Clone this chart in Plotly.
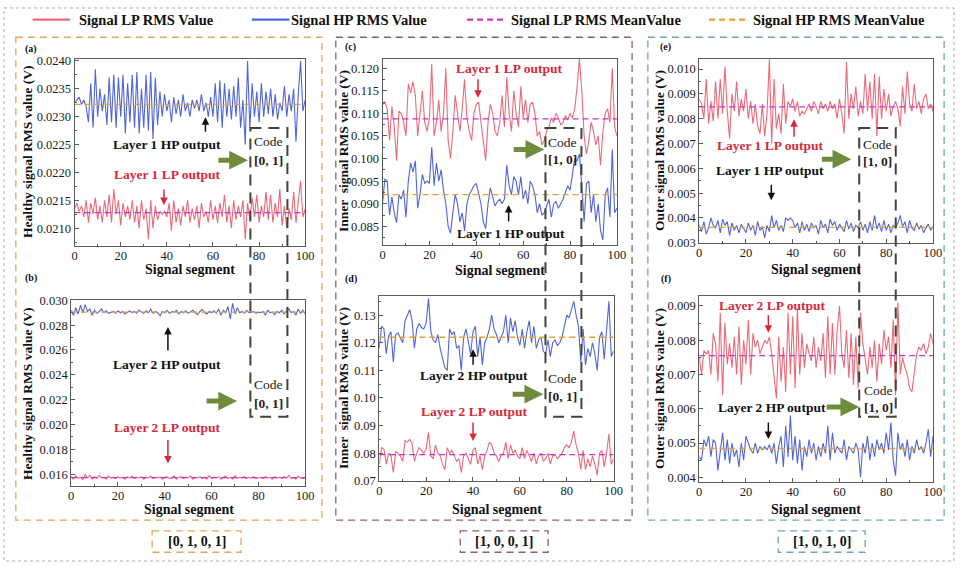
import plotly.graph_objects as go

W, H = 964, 569
FONT = "Liberation Serif, Times New Roman, serif"

# ---------------- data ----------------
x_seg = list(range(101))
x_ticks = [0, 20, 40, 60, 80, 100]

a_lp = [0.02135, 0.02145, 0.02130, 0.02140, 0.02120, 0.02150, 0.02110, 0.02145, 0.02125, 0.02155,
        0.02115, 0.02140, 0.02110, 0.02150, 0.02120, 0.02160, 0.02110, 0.02170, 0.02125, 0.02150,
        0.02105, 0.02145, 0.02120, 0.02140, 0.02115, 0.02150, 0.02110, 0.02140, 0.02100, 0.02150,
        0.02115, 0.02135, 0.02080, 0.02150, 0.02100, 0.02140, 0.02115, 0.02130, 0.02125, 0.02130,
        0.02120, 0.02145, 0.02095, 0.02150, 0.02110, 0.02135, 0.02105, 0.02140, 0.02120, 0.02150,
        0.02110, 0.02135, 0.02115, 0.02140, 0.02100, 0.02145, 0.02120, 0.02130, 0.02110, 0.02150,
        0.02115, 0.02140, 0.02110, 0.02145, 0.02120, 0.02160, 0.02110, 0.02140, 0.02100, 0.02150,
        0.02115, 0.02140, 0.02120, 0.02150, 0.02080, 0.02145, 0.02115, 0.02155, 0.02120, 0.02160,
        0.02110, 0.02140, 0.02120, 0.02165, 0.02115, 0.02160, 0.02110, 0.02145, 0.02120, 0.02170,
        0.02105, 0.02140, 0.02100, 0.02135, 0.02115, 0.02165, 0.02110, 0.02150, 0.02185, 0.02120,
        0.02135]
a_hp = [0.02325, 0.02330, 0.02335, 0.02322, 0.02330, 0.02318, 0.02290, 0.02360, 0.02280, 0.02385,
        0.02300, 0.02350, 0.02310, 0.02340, 0.02285, 0.02370, 0.02290, 0.02375, 0.02280, 0.02370,
        0.02300, 0.02375, 0.02270, 0.02360, 0.02290, 0.02375, 0.02280, 0.02380, 0.02270, 0.02350,
        0.02280, 0.02375, 0.02275, 0.02380, 0.02260, 0.02370, 0.02285, 0.02345, 0.02300, 0.02340,
        0.02310, 0.02330, 0.02290, 0.02335, 0.02305, 0.02330, 0.02300, 0.02340, 0.02310, 0.02325,
        0.02300, 0.02330, 0.02315, 0.02330, 0.02310, 0.02340, 0.02310, 0.02325, 0.02300, 0.02335,
        0.02300, 0.02360, 0.02290, 0.02365, 0.02280, 0.02360, 0.02300, 0.02350, 0.02295, 0.02355,
        0.02300, 0.02370, 0.02280, 0.02330, 0.02250, 0.02400, 0.02280, 0.02360, 0.02300, 0.02345,
        0.02290, 0.02360, 0.02300, 0.02345, 0.02305, 0.02350, 0.02300, 0.02340, 0.02295, 0.02325,
        0.02310, 0.02355, 0.02300, 0.02340, 0.02310, 0.02350, 0.02255, 0.02340, 0.02400, 0.02310,
        0.02330]
a_lp_mean = 0.02128
a_hp_mean = 0.02322

b_lp = [0.01580, 0.01560, 0.01590, 0.01565, 0.01575, 0.01555, 0.01600, 0.01570, 0.01590, 0.01560,
        0.01580, 0.01565, 0.01590, 0.01570, 0.01575, 0.01560, 0.01585, 0.01570, 0.01575, 0.01565,
        0.01580, 0.01570, 0.01575, 0.01560, 0.01580, 0.01570, 0.01585, 0.01565, 0.01575, 0.01570,
        0.01580, 0.01560, 0.01575, 0.01570, 0.01585, 0.01565, 0.01575, 0.01570, 0.01580, 0.01560,
        0.01575, 0.01580, 0.01565, 0.01570, 0.01585, 0.01560, 0.01575, 0.01580, 0.01565, 0.01575,
        0.01570, 0.01585, 0.01560, 0.01575, 0.01570, 0.01580, 0.01565, 0.01575, 0.01560, 0.01590,
        0.01565, 0.01575, 0.01570, 0.01580, 0.01560, 0.01575, 0.01585, 0.01565, 0.01575, 0.01560,
        0.01590, 0.01565, 0.01575, 0.01570, 0.01580, 0.01565, 0.01575, 0.01570, 0.01580, 0.01565,
        0.01570, 0.01575, 0.01565, 0.01580, 0.01570, 0.01575, 0.01560, 0.01580, 0.01570, 0.01575,
        0.01565, 0.01580, 0.01570, 0.01590, 0.01565, 0.01575, 0.01560, 0.01585, 0.01570, 0.01565,
        0.01575]
b_hp = [0.02920, 0.02880, 0.02940, 0.02890, 0.02960, 0.02900, 0.02965, 0.02910, 0.02930, 0.02880,
        0.02920, 0.02895, 0.02910, 0.02930, 0.02900, 0.02915, 0.02895, 0.02905, 0.02910, 0.02895,
        0.02915, 0.02900, 0.02910, 0.02890, 0.02905, 0.02915, 0.02900, 0.02910, 0.02895, 0.02920,
        0.02905, 0.02895, 0.02915, 0.02900, 0.02930, 0.02895, 0.02910, 0.02900, 0.02875, 0.02910,
        0.02900, 0.02920, 0.02895, 0.02910, 0.02905, 0.02920, 0.02890, 0.02910, 0.02900, 0.02915,
        0.02895, 0.02905, 0.02920, 0.02900, 0.02885, 0.02910, 0.02925, 0.02900, 0.02890, 0.02910,
        0.02900, 0.02915, 0.02895, 0.02930, 0.02880, 0.02920, 0.02900, 0.02950, 0.02850, 0.02975,
        0.02890, 0.02940, 0.02900, 0.02910, 0.02895, 0.02920, 0.02900, 0.02905, 0.02910, 0.02895,
        0.02905, 0.02900, 0.02910, 0.02880, 0.02920, 0.02900, 0.02905, 0.02885, 0.02910, 0.02900,
        0.02920, 0.02890, 0.02910, 0.02930, 0.02900, 0.02910, 0.02880, 0.02930, 0.02895, 0.02920,
        0.02890]
b_lp_mean = 0.01572
b_hp_mean = 0.02905

c_lp = [0.1120, 0.1125, 0.1110, 0.1040, 0.1115, 0.1070, 0.0995, 0.1105, 0.1100, 0.1080,
        0.1050, 0.1165, 0.1145, 0.1170, 0.1140, 0.1050, 0.1100, 0.1150, 0.1080, 0.1060,
        0.1090, 0.1210, 0.1050, 0.1080, 0.1130, 0.1060, 0.1100, 0.1200, 0.1040, 0.1000,
        0.1060, 0.1140, 0.1100, 0.1060, 0.1110, 0.1175, 0.1090, 0.1060, 0.1040, 0.1100,
        0.1120, 0.1125, 0.1080, 0.1040, 0.0995, 0.1080, 0.1120, 0.1100, 0.1060, 0.1050,
        0.1080, 0.1140, 0.1070, 0.1180, 0.1100, 0.1060, 0.1150, 0.1100, 0.1070, 0.1160,
        0.1090, 0.1130, 0.1080, 0.1120, 0.1125, 0.1100, 0.1050, 0.1060, 0.1030, 0.1040,
        0.1060, 0.1070, 0.1090, 0.1080, 0.1100, 0.1090, 0.1075, 0.1080, 0.1095, 0.1085,
        0.1100, 0.1090, 0.1110, 0.1160, 0.1220, 0.1150, 0.1050, 0.1010, 0.1040, 0.1080,
        0.1060, 0.1030, 0.1050, 0.0985, 0.1060, 0.1100, 0.1110, 0.1080, 0.1200, 0.1070,
        0.1050]
c_hp = [0.0900, 0.0955, 0.0950, 0.0875, 0.0915, 0.0880, 0.0858, 0.0920, 0.0910, 0.0930,
        0.0870, 0.0950, 0.0990, 0.0970, 0.0995, 0.0890, 0.0920, 0.0965, 0.0945, 0.0950,
        0.0945, 0.1025, 0.0940, 0.0990, 0.0950, 0.0975, 0.0930, 0.0900, 0.0850, 0.0835,
        0.0880, 0.0920, 0.0900, 0.0860, 0.0880, 0.0840, 0.0900, 0.0920, 0.0930, 0.0940,
        0.0945, 0.0920, 0.0900, 0.0860, 0.0845, 0.0900, 0.0935, 0.0915, 0.0895, 0.0905,
        0.0910, 0.0900, 0.0910, 0.0985, 0.0940, 0.0920, 0.0960, 0.0950, 0.0920, 0.0960,
        0.0910, 0.0930, 0.0900, 0.0950, 0.0940, 0.0920, 0.0880, 0.0900, 0.0875, 0.0880,
        0.0895, 0.0910, 0.0870, 0.0900, 0.0905, 0.0890, 0.0900, 0.0910, 0.0925, 0.0940,
        0.0930, 0.0970, 0.1000, 0.0995, 0.1010, 0.0940, 0.0860, 0.0945, 0.0950, 0.0880,
        0.0920, 0.0860, 0.0900, 0.0840, 0.0820, 0.0920, 0.0935, 0.0870, 0.1020, 0.0880,
        0.0890]
c_lp_mean = 0.1088
c_hp_mean = 0.0920

d_lp = [0.0760, 0.0820, 0.0815, 0.0760, 0.0800, 0.0790, 0.0730, 0.0805, 0.0800, 0.0790,
        0.0770, 0.0845, 0.0840, 0.0850, 0.0835, 0.0770, 0.0800, 0.0820, 0.0810, 0.0800,
        0.0815, 0.0875, 0.0790, 0.0780, 0.0830, 0.0800, 0.0790, 0.0760, 0.0740, 0.0820,
        0.0800, 0.0810, 0.0790, 0.0770, 0.0780, 0.0730, 0.0790, 0.0800, 0.0780, 0.0760,
        0.0810, 0.0820, 0.0760, 0.0790, 0.0740, 0.0790, 0.0810, 0.0840, 0.0830, 0.0800,
        0.0790, 0.0770, 0.0790, 0.0800, 0.0840, 0.0780, 0.0830, 0.0800, 0.0810, 0.0790,
        0.0780, 0.0820, 0.0780, 0.0810, 0.0790, 0.0770, 0.0800, 0.0760, 0.0790, 0.0800,
        0.0770, 0.0780, 0.0800, 0.0760, 0.0790, 0.0795, 0.0780, 0.0790, 0.0800, 0.0820,
        0.0830, 0.0820, 0.0840, 0.0880, 0.0830, 0.0800, 0.0740, 0.0810, 0.0740, 0.0780,
        0.0750, 0.0790, 0.0760, 0.0720, 0.0800, 0.0810, 0.0750, 0.0800, 0.0870, 0.0760,
        0.0780]
d_hp = [0.1180, 0.1260, 0.1250, 0.1160, 0.1225, 0.1240, 0.1130, 0.1230, 0.1235, 0.1220,
        0.1200, 0.1280, 0.1300, 0.1320, 0.1280, 0.1180, 0.1250, 0.1270, 0.1255, 0.1250,
        0.1270, 0.1360, 0.1240, 0.1210, 0.1200, 0.1230, 0.1180, 0.1150, 0.1110, 0.1100,
        0.1250, 0.1230, 0.1240, 0.1180, 0.1190, 0.1100, 0.1220, 0.1250, 0.1200, 0.1160,
        0.1240, 0.1260, 0.1150, 0.1220, 0.1120, 0.1200, 0.1220, 0.1250, 0.1300, 0.1250,
        0.1230, 0.1200, 0.1220, 0.1240, 0.1300, 0.1200, 0.1290, 0.1240, 0.1280, 0.1220,
        0.1190, 0.1250, 0.1180, 0.1240, 0.1280, 0.1200, 0.1260, 0.1180, 0.1210, 0.1220,
        0.1170, 0.1160, 0.1210, 0.1150, 0.1200, 0.1210, 0.1190, 0.1200, 0.1220, 0.1260,
        0.1300, 0.1290, 0.1320, 0.1350, 0.1300, 0.1260, 0.1130, 0.1250, 0.1120, 0.1180,
        0.1150, 0.1200, 0.1160, 0.1100, 0.1220, 0.1240, 0.1140, 0.1250, 0.1350, 0.1150,
        0.1170]
d_lp_mean = 0.0795
d_hp_mean = 0.1220

e_lp = [0.00880, 0.00860, 0.00800, 0.00960, 0.00780, 0.00870, 0.00790, 0.00950, 0.00800, 0.00960,
        0.00820, 0.01010, 0.00830, 0.00720, 0.00900, 0.00830, 0.00950, 0.00810, 0.00880, 0.00830,
        0.00920, 0.00800, 0.00870, 0.00780, 0.00860, 0.00770, 0.00740, 0.00860, 0.00730, 0.00820,
        0.01040, 0.00700, 0.00960, 0.00760, 0.00820, 0.00740, 0.00940, 0.00780, 0.00870, 0.00850,
        0.00880, 0.00830, 0.00870, 0.00810, 0.00830, 0.00820, 0.00840, 0.00860, 0.00830, 0.00870,
        0.00850, 0.00820, 0.00870, 0.00840, 0.00860, 0.00830, 0.00870, 0.00840, 0.00860, 0.00800,
        0.00880, 0.00820, 0.00740, 0.01030, 0.00800, 0.00900, 0.00840, 0.00930, 0.00810, 0.00870,
        0.00820, 0.00980, 0.00830, 0.00950, 0.00800, 0.00980, 0.00730, 0.00970, 0.00800, 0.00920,
        0.00830, 0.00900, 0.00810, 0.00850, 0.00870, 0.00840, 0.00770, 0.00930, 0.00820, 0.00990,
        0.00860, 0.00830, 0.00940, 0.00840, 0.00870, 0.00820, 0.00880, 0.00900, 0.00840, 0.00860,
        0.00830]
e_hp = [0.00370, 0.00345, 0.00385, 0.00335, 0.00360, 0.00400, 0.00370, 0.00360, 0.00390, 0.00340,
        0.00395, 0.00370, 0.00385, 0.00330, 0.00380, 0.00350, 0.00370, 0.00340, 0.00375, 0.00355,
        0.00340, 0.00380, 0.00350, 0.00370, 0.00330, 0.00385, 0.00350, 0.00365, 0.00320, 0.00370,
        0.00345, 0.00410, 0.00360, 0.00390, 0.00350, 0.00370, 0.00345, 0.00400, 0.00390, 0.00400,
        0.00390, 0.00360, 0.00380, 0.00340, 0.00385, 0.00350, 0.00375, 0.00345, 0.00380, 0.00360,
        0.00370, 0.00335, 0.00390, 0.00360, 0.00375, 0.00340, 0.00395, 0.00370, 0.00385, 0.00350,
        0.00375, 0.00360, 0.00345, 0.00390, 0.00355, 0.00380, 0.00345, 0.00370, 0.00360, 0.00385,
        0.00350, 0.00375, 0.00340, 0.00385, 0.00350, 0.00410, 0.00355, 0.00380, 0.00345, 0.00390,
        0.00350, 0.00375, 0.00340, 0.00370, 0.00360, 0.00380, 0.00410, 0.00365, 0.00385, 0.00340,
        0.00390, 0.00360, 0.00350, 0.00380, 0.00355, 0.00370, 0.00340, 0.00360, 0.00375, 0.00350,
        0.00365]
e_lp_mean = 0.00848
e_hp_mean = 0.00362

f_lp = [0.00750, 0.00700, 0.00770, 0.00760, 0.00770, 0.00700, 0.00820, 0.00790, 0.00680, 0.00880,
        0.00640, 0.00850, 0.00730, 0.00790, 0.00720, 0.00810, 0.00700, 0.00840, 0.00670, 0.00800,
        0.00730, 0.00860, 0.00700, 0.00820, 0.00780, 0.00800, 0.00760, 0.00780, 0.00800, 0.00790,
        0.00810, 0.00760, 0.00700, 0.00630, 0.00810, 0.00680, 0.00780, 0.00650, 0.00880, 0.00700,
        0.00870, 0.00660, 0.00890, 0.00700, 0.00820, 0.00720, 0.00790, 0.00760, 0.00740, 0.00810,
        0.00720, 0.00780, 0.00740, 0.00820, 0.00690, 0.00870, 0.00700, 0.00850, 0.00700, 0.00830,
        0.00900, 0.00760, 0.00720, 0.00830, 0.00690, 0.00820, 0.00670, 0.00810, 0.00660, 0.00880,
        0.00790, 0.00750, 0.00700, 0.00780, 0.00720, 0.00800, 0.00680, 0.00790, 0.00730, 0.00830,
        0.00770, 0.00810, 0.00720, 0.00860, 0.00640, 0.00910, 0.00700, 0.00750, 0.00720, 0.00700,
        0.00660, 0.00650, 0.00700, 0.00760, 0.00780, 0.00770, 0.00790, 0.00760, 0.00780, 0.00820,
        0.00790]
f_hp = [0.00460, 0.00450, 0.00510, 0.00490, 0.00520, 0.00460, 0.00510, 0.00500, 0.00420, 0.00480,
        0.00530, 0.00450, 0.00510, 0.00440, 0.00500, 0.00460, 0.00480, 0.00430, 0.00500, 0.00450,
        0.00520, 0.00500, 0.00480, 0.00470, 0.00500, 0.00470, 0.00490, 0.00480, 0.00490, 0.00480,
        0.00495, 0.00470, 0.00500, 0.00440, 0.00490, 0.00520, 0.00430, 0.00550, 0.00460, 0.00580,
        0.00450, 0.00520, 0.00440, 0.00510, 0.00420, 0.00490, 0.00460, 0.00510, 0.00470, 0.00500,
        0.00450, 0.00490, 0.00460, 0.00500, 0.00470, 0.00550, 0.00450, 0.00530, 0.00470, 0.00490,
        0.00480, 0.00470, 0.00510, 0.00450, 0.00490, 0.00480, 0.00470, 0.00500, 0.00480, 0.00400,
        0.00500, 0.00470, 0.00520, 0.00450, 0.00500, 0.00460, 0.00510, 0.00480, 0.00500, 0.00470,
        0.00530, 0.00480, 0.00560, 0.00450, 0.00405, 0.00530, 0.00480, 0.00500, 0.00460, 0.00510,
        0.00450, 0.00490, 0.00470, 0.00510, 0.00480, 0.00490, 0.00470, 0.00500, 0.00540, 0.00460,
        0.00520]
f_lp_mean = 0.00755
f_hp_mean = 0.00484

a_yticks = [0.0210, 0.0215, 0.0220, 0.0225, 0.0230, 0.0235, 0.0240]
b_yticks = [0.016, 0.018, 0.020, 0.022, 0.024, 0.026, 0.028, 0.030]
c_yticks = [0.085, 0.090, 0.095, 0.100, 0.105, 0.110, 0.115, 0.120]
d_yticks = [0.07, 0.08, 0.09, 0.10, 0.11, 0.12, 0.13]
e_yticks = [0.003, 0.004, 0.005, 0.006, 0.007, 0.008, 0.009, 0.010]
f_yticks = [0.004, 0.005, 0.006, 0.007, 0.008, 0.009]

legend_names = ["Signal LP RMS Value", "Signal HP RMS Value",
                "Signal LP RMS MeanValue", "Signal HP RMS MeanValue"]
y_titles = ["Healthy signal RMS value (V)", "Inner  signal RMS value (V)",
            "Outer signal RMS value (V)"]
group_codes = ["[0, 1, 0, 1]", "[1, 0, 0, 1]", "[1, 0, 1, 0]"]

# ---------------- style ----------------
LP_C = "#ec6a78"
HP_C = "#5064dc"
LPM_C = "#cc33cc"
HPM_C = "#e8a035"
RED_T = "#d8283a"
GREEN = "#6e8c3c"
CODE_C = "#3e4636"


def fx(p):
    return p / W


def fy(p):
    return 1 - p / H


panels = [
    # name, lp, hp, lpm, hpm, yticks, fmt, yrange, (l, r, t, b) pixels
    ("a", a_lp, a_hp, a_lp_mean, a_hp_mean, a_yticks, ".4f", [0.02068, 0.02404], (72.5, 306, 53, 245)),
    ("b", b_lp, b_hp, b_lp_mean, b_hp_mean, b_yticks, ".3f", [0.01508, 0.0300], (69, 306, 300.7, 490.7)),
    ("c", c_lp, c_hp, c_lp_mean, c_hp_mean, c_yticks, ".3f", [0.0808, 0.1221], (384.3, 621.7, 53, 244.3)),
    ("d", d_lp, d_hp, d_lp_mean, d_hp_mean, d_yticks, ".2f", [0.0700, 0.1368], (381, 618.3, 296.7, 485.7)),
    ("e", e_lp, e_hp, e_lp_mean, e_hp_mean, e_yticks, ".3f", [0.0030, 0.01042], (705, 941.7, 53, 241.7)),
    ("f", f_lp, f_hp, f_lp_mean, f_hp_mean, f_yticks, ".3f", [0.00387, 0.0093], (705, 941.7, 296, 486.7)),
]

fig = go.Figure()
layout_axes = {}
for i, (name, lp, hp, lpm, hpm, yt, fmt, yr, (l, r, t, b)) in enumerate(panels):
    k = "" if i == 0 else str(i + 1)
    xa, ya = "x" + k, "y" + k
    fig.add_trace(go.Scatter(x=x_seg, y=lp, mode="lines", line=dict(color=LP_C, width=1.1),
                             xaxis=xa, yaxis=ya, showlegend=False))
    fig.add_trace(go.Scatter(x=x_seg, y=hp, mode="lines", line=dict(color=HP_C, width=1.1),
                             xaxis=xa, yaxis=ya, showlegend=False))
    fig.add_trace(go.Scatter(x=[0, 100], y=[lpm, lpm], mode="lines",
                             line=dict(color=LPM_C, width=1.3, dash="6px,4px"),
                             xaxis=xa, yaxis=ya, showlegend=False))
    fig.add_trace(go.Scatter(x=[0, 100], y=[hpm, hpm], mode="lines",
                             line=dict(color=HPM_C, width=1.3, dash="6px,4px"),
                             xaxis=xa, yaxis=ya, showlegend=False))
    step = yt[1] - yt[0]
    axcommon = dict(showline=True, linecolor="#5a5a5a", linewidth=1, mirror=True,
                    ticks="inside", ticklen=4, tickcolor="#5a5a5a", showgrid=False,
                    zeroline=False, tickfont=dict(family=FONT, size=12.5, color="#1a1a1a"))
    layout_axes["xaxis" + k] = dict(axcommon, domain=[fx(l), fx(r)], range=[0, 100],
                                    tickvals=x_ticks, anchor=ya, ticklabelstandoff=-2,
                                    minor=dict(ticks="inside", ticklen=2, dtick=10,
                                               tickcolor="#5a5a5a"))
    layout_axes["yaxis" + k] = dict(axcommon, domain=[fy(b), fy(t)], range=yr,
                                    tickvals=yt, tickformat=fmt, anchor=xa,
                                    minor=dict(ticks="inside", ticklen=2, tick0=yt[0],
                                               dtick=step / 2, tickcolor="#5a5a5a"))

fig.update_layout(**layout_axes)

ann = []
shapes = []


def text(x, y, s, size=13, color="#111", bold=True, angle=0, xanchor="center"):
    ann.append(dict(x=fx(x), y=fy(y), xref="paper", yref="paper", showarrow=False,
                    text=("<b>%s</b>" % s) if bold else s, textangle=angle,
                    xanchor=xanchor, yanchor="middle",
                    font=dict(family=FONT, size=size, color=color)))


def arrow(x1, y1, x0, y0, color="#111", width=1.5, head=2, size=1.0):
    # head at (x1, y1), tail at (x0, y0), pixel coordinates
    ann.append(dict(x=fx(x1), y=fy(y1), xref="paper", yref="paper", text="",
                    showarrow=True, ax=x0 - x1, ay=y0 - y1, axref="pixel", ayref="pixel",
                    arrowhead=head, arrowwidth=width, arrowsize=size,
                    arrowcolor=color, standoff=0, startstandoff=0))


# legend (manual)
leg_items = [(30, 75, LP_C, "solid"), (252, 290, HP_C, "solid"),
             (470, 512, LPM_C, "6px,4px"), (715, 757, HPM_C, "6px,4px")]
for (lx, tx, col, dash), nm in zip(leg_items, legend_names):
    shapes.append(dict(type="line", xref="paper", yref="paper", x0=fx(lx), x1=fx(lx + 38),
                       y0=fy(13), y1=fy(13), line=dict(color=col, width=2.2, dash=dash)))
    text(tx, 13, nm, size=14.5, xanchor="left")

# group boxes
for (x0, x1, col) in [(13, 323, "#e2a55a"), (337, 637, "#8a6262"), (653, 953, "#73a2b2")]:
    shapes.append(dict(type="rect", xref="paper", yref="paper", x0=fx(x0), x1=fx(x1),
                       y0=fy(31), y1=fy(526), line=dict(color=col, width=1.3, dash="7px,5px")))
for (x0, x1, col), code in zip([(151, 241, "#e2a55a"), (463, 552, "#8a6262"),
                               (785, 873, "#73a2b2")], group_codes):
    shapes.append(dict(type="rect", xref="paper", yref="paper", x0=fx(x0), x1=fx(x1),
                       y0=fy(537), y1=fy(559), line=dict(color=col, width=1.3, dash="7px,5px")))
    text((x0 + x1) / 2, 548, code, size=14)

# outer dotted border
shapes.append(dict(type="rect", xref="paper", yref="paper", x0=fx(1), x1=fx(963),
                   y0=fy(1), y1=fy(568), line=dict(color="#aaaaaa", width=1, dash="dot")))

# code boxes
for (x0, x1) in [(250.5, 288), (549.3, 585.7), (867, 904)]:
    shapes.append(dict(type="rect", xref="paper", yref="paper", x0=fx(x0), x1=fx(x1),
                       y0=fy(124), y1=fy(420), layer="above",
                       line=dict(color=CODE_C, width=2, dash="11px,7px")))

# code texts
for (cx, cy1, cy2, code) in [(269, 138, 157, "[0, 1]"), (269, 387, 406, "[0, 1]"),
                             (567, 139, 156, "[1, 0]"), (567, 381, 399, "[0, 1]"),
                             (886, 141, 158, "[1, 0]"), (887, 393, 411, "[1, 0]")]:
    text(cx, cy1, "Code", size=13.5, bold=False, color="#222")
    text(cx, cy2, code, size=13.5, color="#222")

# green arrows
for (x0, x1, y) in [(217, 248, 157), (205, 237, 404), (516, 548, 146),
                    (515, 547, 397), (828, 859, 156), (833, 867, 410)]:
    arrow(x1, y, x0, y, color=GREEN, width=5, head=2, size=0.75)

# panel letters
for (px_, py_, s) in [(28, 43, "(a)"), (28, 278, "(b)"), (352, 41, "(c)"),
                      (352, 279, "(d)"), (671, 41, "(e)"), (671, 279, "(f)")]:
    text(px_, py_, s, size=10)

# axis titles
for (cx, y) in [(189, 269), (188, 515), (503, 270), (500, 515), (823, 269), (823, 515)]:
    text(cx, y, "Signal segment", size=14)
for (x, y, s) in [(25, 148, y_titles[0]), (25, 396, y_titles[0]),
                  (345, 148, y_titles[1]), (345, 391, y_titles[1]),
                  (665, 147, y_titles[2]), (665, 391, y_titles[2])]:
    text(x, y, s, size=13.5, angle=-90)

# layer annotations
text(166, 141, "Layer 1 HP output", size=13.5)
arrow(205, 113, 205, 129)
text(166, 172, "Layer 1 LP output", size=13.5, color=RED_T)
arrow(163, 203, 163, 186, color=RED_T)

arrow(167, 328, 167, 353)
text(166, 367, "Layer 2 HP output", size=13.5)
text(166, 431, "Layer 2 LP output", size=13.5, color=RED_T)
arrow(167, 468, 167, 443, color=RED_T)

text(512, 63, "Layer 1 LP output", size=13.5, color=RED_T)
arrow(481, 93, 481, 73, color=RED_T)
text(514, 232, "Layer 1 HP output", size=13.5)
arrow(512, 203, 512, 221)

text(477, 378, "Layer 2 HP output", size=13.5)
arrow(476, 351, 476, 368)
text(477, 415, "Layer 2 LP output", size=13.5, color=RED_T)
arrow(476, 445, 476, 425, color=RED_T)

text(777, 142, "Layer 1 LP output", size=13.5, color=RED_T)
arrow(801, 115, 801, 134, color=RED_T)
text(777, 168, "Layer 1 HP output", size=13.5)
arrow(778, 198, 778, 181)

text(779, 306, "Layer 2 LP output", size=13.5, color=RED_T)
arrow(775, 334, 775, 315, color=RED_T)
text(779, 411, "Layer 2 HP output", size=13.5)
arrow(775, 443, 775, 425)

fig.update_layout(width=W, height=H, margin=dict(l=0, r=0, t=0, b=0),
                  paper_bgcolor="white", plot_bgcolor="white", showlegend=False,
                  annotations=ann, shapes=shapes,
                  font=dict(family=FONT, color="#111"))

fig.write_html("out.html", config={"displayModeBar": False},
               post_script="document.body.style.margin='0';document.body.style.padding='0';")
